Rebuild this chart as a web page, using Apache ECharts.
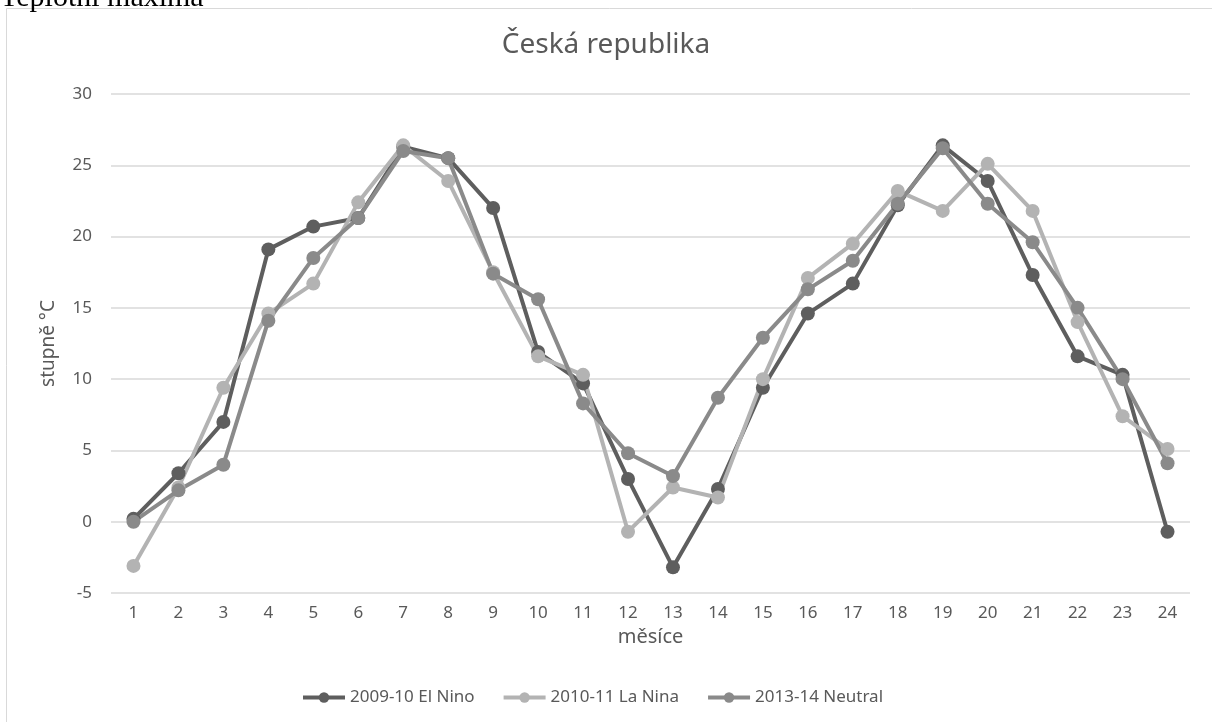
<!DOCTYPE html>
<html>
<head>
<meta charset="utf-8">
<script src="https://cdn.jsdelivr.net/npm/echarts@6/dist/echarts.min.js"></script>
<style>
  html, body { margin: 0; padding: 0; background: #fff; }
  #main { width: 1212px; height: 722px; }
</style>
</head>
<body>
<div id="main"></div>
<script>
// mesice 1..24
var months = ['1','2','3','4','5','6','7','8','9','10','11','12','13','14','15','16','17','18','19','20','21','22','23','24'];
var elNino = [0.2, 3.4, 7.0, 19.1, 20.7, 21.3, 26.3, 25.5, 22.0, 11.9, 9.7, 3.0, -3.2, 2.3, 9.4, 14.6, 16.7, 22.2, 26.4, 23.9, 17.3, 11.6, 10.3, -0.7];
var laNina = [-3.1, 2.4, 9.4, 14.6, 16.7, 22.4, 26.4, 23.9, 17.5, 11.6, 10.3, -0.7, 2.4, 1.7, 10.0, 17.1, 19.5, 23.2, 21.8, 25.1, 21.8, 14.0, 7.4, 5.1];
var neutral = [0.0, 2.2, 4.0, 14.1, 18.5, 21.3, 26.0, 25.5, 17.4, 15.6, 8.3, 4.8, 3.2, 8.7, 12.9, 16.3, 18.3, 22.3, 26.2, 22.3, 19.6, 15.0, 10.0, 4.1];
var yTicks = [-5, 0, 5, 10, 15, 20, 25, 30];

var txt = '#595959';
var font = 'Noto Sans';

function lineSeries(name, data, color) {
    return {
        name: name,
        type: 'line',
        data: data,
        symbol: 'circle',
        symbolSize: 14,
        lineStyle: { width: 4, color: color },
        itemStyle: { color: color },
        emphasis: { disabled: true },
        animation: false
    };
}

var chart = echarts.init(document.getElementById('main'));
chart.setOption({
    backgroundColor: '#fff',
    textStyle: { fontFamily: font },
    graphic: [
        {
            type: 'rect',
            shape: { x: 6.5, y: 8.5, width: 1230, height: 730 },
            style: { fill: 'none', stroke: '#d9d9d9', lineWidth: 1 },
            silent: true
        },
        {
            type: 'text',
            left: 0,
            top: -17,
            style: { text: 'Teplotní maxima', fill: '#000', font: '30px "Liberation Serif"' },
            silent: true
        }
    ],
    title: {
        text: 'Česká republika',
        left: 'center',
        top: 26,
        textStyle: { color: txt, fontSize: 28, fontWeight: 'normal', fontFamily: font }
    },
    legend: {
        bottom: 11,
        left: 296,
        itemWidth: 42,
        itemHeight: 13,
        itemGap: 27,
        lineStyle: { width: 4 },
        textStyle: { color: txt, fontSize: 17, fontFamily: font },
        data: ['2009-10 El Nino', '2010-11 La Nina', '2013-14 Neutral']
    },
    grid: { left: 111, right: 22, top: 94, bottom: 129 },
    xAxis: {
        type: 'category',
        data: months,
        name: 'měsíce',
        nameLocation: 'middle',
        nameGap: 33,
        nameTextStyle: { color: txt, fontSize: 20, fontFamily: font },
        axisLine: { show: false },
        axisTick: { show: false },
        axisLabel: { color: txt, fontSize: 17, margin: 12, fontFamily: font }
    },
    yAxis: {
        type: 'value',
        min: -5,
        max: 30,
        interval: 5,
        name: 'stupně °C',
        nameLocation: 'middle',
        nameGap: 53,
        nameTextStyle: { color: txt, fontSize: 19, fontFamily: font },
        axisLine: { show: false },
        axisTick: { show: false },
        axisLabel: {
            color: txt, fontSize: 17, margin: 19, fontFamily: font,
            formatter: function (v) { return yTicks.indexOf(v) >= 0 ? String(v) : ''; }
        },
        splitLine: { lineStyle: { color: '#d9d9d9', width: 1.5 } }
    },
    series: [
        lineSeries('2009-10 El Nino', elNino, '#5e5e5e'),
        lineSeries('2010-11 La Nina', laNina, '#b3b3b3'),
        lineSeries('2013-14 Neutral', neutral, '#8a8a8a')
    ]
});
</script>
</body>
</html>
